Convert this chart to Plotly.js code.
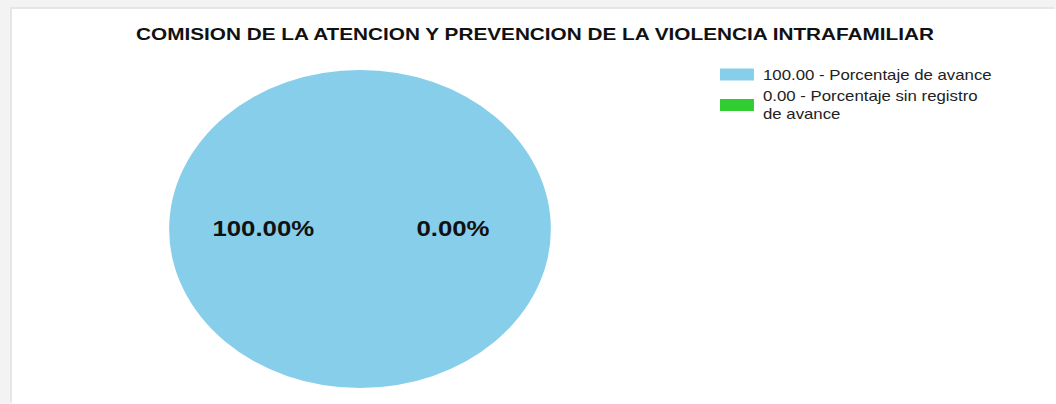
<!DOCTYPE html>
<html>
<head>
<meta charset="utf-8">
<script src="https://cdn.plot.ly/plotly-3.0.1.min.js"></script>
<style>
    html, body { margin: 0; padding: 0; }
    body { width: 1056px; height: 404px; background: #f3f3f3; overflow: hidden; position: relative; }
    #frame { position: absolute; left: 12px; top: 9px; width: 1044px; height: 395px; background: #fff;
             box-shadow: -2px -2px 0 #e6e6e6; overflow: hidden; }
    /* the original image is stretched horizontally, pie and text alike */
    #chart { width: 870px; height: 395px; transform: scaleX(1.2); transform-origin: 0 0; }
</style>
</head>
<body>
<div id="frame"><div id="chart"></div></div>
<script>
// chart data
var sliceNames = ['Porcentaje de avance', 'Porcentaje sin registro de avance'];
var sliceValues = [100.00, 0.00];
var sliceColors = ['#87CEEB', '#32CD32'];
var pctLabels = ['100.00%', '0.00%'];
var chartTitle = 'COMISION DE LA ATENCION Y PREVENCION DE LA VIOLENCIA INTRAFAMILIAR';

// wrap long legend names like the original (about 30 chars per line)
function wrap(str, max) {
    var words = str.split(' ');
    var lines = [], cur = '';
    words.forEach(function (w) {
        if (cur && (cur + ' ' + w).length > max) {
            lines.push(cur);
            cur = w;
        } else {
            cur = cur ? cur + ' ' + w : w;
        }
    });
    if (cur) lines.push(cur);
    return lines.join('<br>');
}

var legendLabels = sliceNames.map(function (n, i) {
    return wrap(sliceValues[i].toFixed(2) + ' - ' + n, 31);
});

var W = 870, H = 395;              // unstretched plot size
var cx = 290, cy = 220, r = 159;   // pie centre / radius in px

var trace = {
    type: 'pie',
    labels: legendLabels,
    values: sliceValues,
    marker: {colors: sliceColors, line: {width: 0}},
    textinfo: 'none',
    hoverinfo: 'label',
    sort: false,
    direction: 'clockwise',
    domain: {
        x: [(cx - r) / W, (cx + r) / W],
        y: [(H - cy - r) / H, (H - cy + r) / H]
    }
};

var annX = [209.2, 367.5];
var annotations = pctLabels.map(function (t, i) {
    return {
        text: '<b>' + t + '</b>', xref: 'paper', yref: 'paper',
        x: annX[i] / W, y: 1 - cy / H,
        showarrow: false, xanchor: 'center', yanchor: 'middle',
        font: {family: 'Liberation Sans, Arial, sans-serif', size: 21.5, color: '#111'}
    };
});

var layout = {
    width: W,
    height: H,
    margin: {l: 0, r: 0, t: 0, b: 0},
    paper_bgcolor: '#fff',
    font: {family: 'Liberation Sans, Arial, sans-serif', color: '#111'},
    title: {
        text: '<b>' + chartTitle + '</b>',
        x: 0.501, xanchor: 'center',
        y: 1 - 25 / H, yanchor: 'middle',
        font: {size: 17.3, color: '#111'}
    },
    showlegend: true,
    legend: {
        x: 575.8 / W, xanchor: 'left',
        y: 1 - 50 / H, yanchor: 'top',
        itemwidth: 40,
        tracegroupgap: 0,
        font: {size: 14, color: '#222'},
        bgcolor: 'rgba(0,0,0,0)'
    },
    annotations: annotations
};

Plotly.newPlot('chart', [trace], layout, {staticPlot: true}).then(function (gd) {
    // wide rectangular legend swatches
    gd.querySelectorAll('.legendpoints path').forEach(function (p) {
        p.setAttribute('d', 'M17.5,6H-10.8V-6H17.5Z');
    });
});
</script>
</body>
</html>
